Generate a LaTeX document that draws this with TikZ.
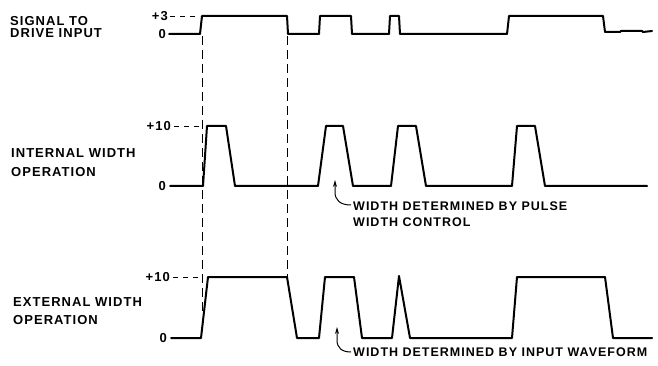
\documentclass[tikz,border=0pt]{standalone}
\usepackage{fontspec}
\setmainfont{Liberation Sans}[LetterSpace=8]
\usetikzlibrary{arrows.meta,calc}
\begin{document}
\begin{tikzpicture}[x=1pt,y=-1pt,
  wave/.style={line width=2pt, line join=round, line cap=round},
  guide/.style={line width=0.8pt, dash pattern=on 9pt off 5pt},
  hguide/.style={line width=0.9pt, dash pattern=on 5pt off 5pt},
  lbl/.style={inner sep=0pt, align=left, anchor=north west},
  val/.style={font=\fontsize{13}{13}\selectfont\bfseries, inner sep=0pt, anchor=east},
  note/.style={font=\fontsize{12.5}{16}\selectfont\bfseries, inner sep=0pt, align=left, anchor=north west},
  notearrow/.style={line width=1pt, -{Stealth[length=7pt,width=4pt]}}
]
\useasboundingbox (0,0) rectangle (658,366);

% left labels
\node[lbl, font=\fontsize{13}{12}\selectfont\bfseries] (sig) at (10,16) {SIGNAL TO\\DRIVE INPUT};
\node[lbl, font=\fontsize{13}{19}\selectfont\bfseries] (int) at (11,148) {INTERNAL WIDTH\\OPERATION};
\node[lbl, font=\fontsize{13}{18}\selectfont\bfseries] (ext) at (13,297) {EXTERNAL WIDTH\\OPERATION};

% value labels
\node[val] (t3) at (168,16) {+3};
\node[val] (t0) at (166,34) {0};
\node[val] (m10) at (171,126) {+10};
\node[val] (m0) at (166,186) {0};
\node[val] (b10) at (170,277) {+10};
\node[val] (b0) at (167,338) {0};

% level leaders
\draw[hguide] ([xshift=2pt]t3.east) -- (200,16);
\draw[hguide] ([xshift=3pt]m10.east) -- (202,126);
\draw[hguide] ([xshift=3pt]b10.east) -- (202,277);

% vertical guides
\draw[guide] (202,36) -- (202,315);
\draw[guide] (287,36) -- (287,277);

% top waveform
\draw[wave] ([xshift=3pt]t0.east) -- (200,34) -- (202,16) -- (287,16) -- (288,34) -- (319,34) -- (320,16)
  -- (351,16) -- (352,34) -- (389,34) -- (390,16) -- (399,16) -- (400,34) -- (507,34) -- (509,16)
  -- (603,16) -- (605,32) -- (620,32) -- (621,31) -- (642,31) -- (643,32) -- (652,31);

% middle waveform
\draw[wave] ([xshift=4pt]m0.east) -- (203,186) -- (207,126) -- (226,126) -- (235,186) -- (318,186)
  -- (326,126) -- (343,126) -- (353,186) -- (391,186) -- (398,126) -- (416,126) -- (426,186)
  -- (512,186) -- (517,126) -- (535,126) -- (545,186) -- (647,186);

% bottom waveform
\draw[wave] ([xshift=4pt]b0.east) -- (201,338) -- (208,277) -- (287,277) -- (297,338) -- (319,338)
  -- (325,277) -- (354,277) -- (362,338) -- (392,338) -- (399,276) -- (410,338) -- (512,338)
  -- (517,277) -- (605,277) -- (613,338) -- (652,338);

% annotations
\node[note] (n1) at (353,202) {WIDTH DETERMINED BY PULSE\\WIDTH CONTROL};
\coordinate (tip1) at (335,180);
\draw[notearrow] ($(n1.north west)+(-2,3)$) .. controls (340,205) and (335,200) .. (335,192) -- (tip1);

\node[note] (n2) at (353,348) {WIDTH DETERMINED BY INPUT WAVEFORM};
\coordinate (tip2) at (337,327);
\draw[notearrow] ($(n2.north west)+(-2,4)$) .. controls (342,352) and (337,348) .. (337,340) -- (tip2);
\end{tikzpicture}
\end{document}
